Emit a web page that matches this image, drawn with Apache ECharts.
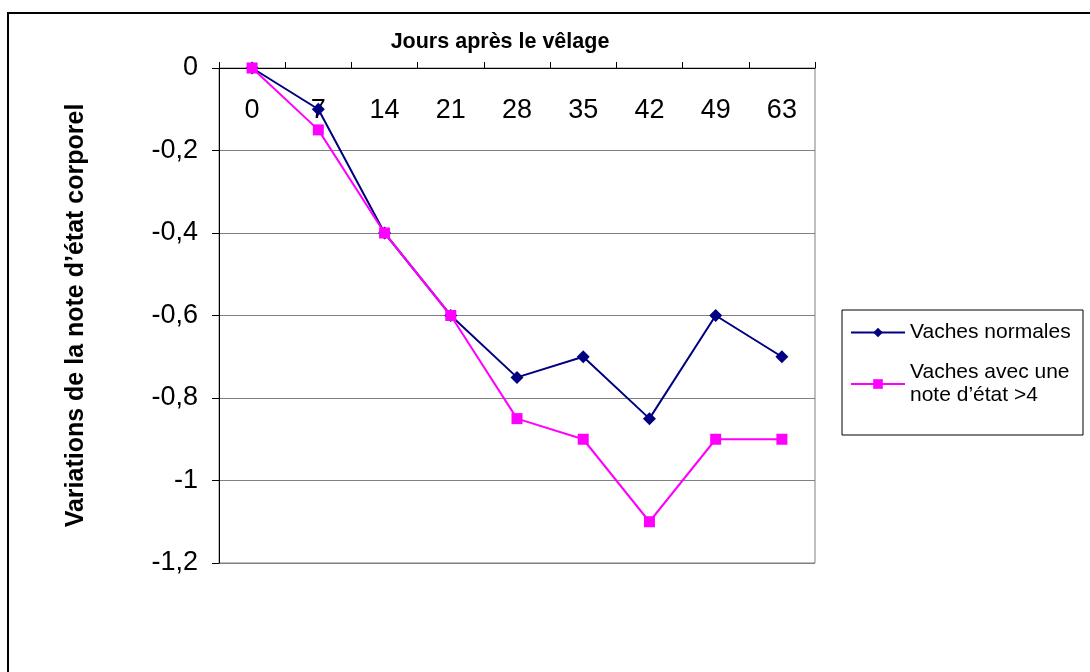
<!DOCTYPE html>
<html>
<head>
<meta charset="utf-8">
<script src="https://cdn.jsdelivr.net/npm/echarts@6/dist/echarts.min.js"></script>
<style>
html,body{margin:0;padding:0;background:#fff;}
#chart{width:1090px;height:672px;}
</style>
</head>
<body>
<div id="chart"></div>
<script>
var jours = ['0', '7', '14', '21', '28', '35', '42', '49', '63'];
var normales = [0, -0.1, -0.4, -0.6, -0.75, -0.7, -0.85, -0.6, -0.7];
var grasses = [0, -0.15, -0.4, -0.6, -0.85, -0.9, -1.1, -0.9, -0.9];
var noms = ['Vaches normales', 'Vaches avec une\nnote d\u2019\u00e9tat >4'];

var chart = echarts.init(document.getElementById('chart'));
var police = 'Liberation Sans, Arial, sans-serif';
var option = {
	animation: false,
	backgroundColor: '#fff',
	textStyle: { fontFamily: police },
	graphic: [
		{ type: 'rect', shape: { x: 8, y: 13, width: 1100, height: 700 },
		  style: { fill: 'none', stroke: '#000', lineWidth: 2 }, z: 0 },
		{ type: 'rect', shape: { x: 842, y: 310, width: 241, height: 125 },
		  style: { fill: '#fff', stroke: '#000', lineWidth: 1 }, z: 0 }
	],
	grid: {
		left: 219, top: 68, width: 596, height: 495,
		show: true, borderColor: '#808080', borderWidth: 1
	},
	legend: {
		orient: 'vertical',
		left: 845, top: 316,
		itemWidth: 54, itemHeight: 12, itemGap: 17,
		textStyle: { fontSize: 21, color: '#000', fontFamily: police, lineHeight: 23 },
		data: noms
	},
	xAxis: {
		type: 'category',
		position: 'top',
		data: jours,
		name: 'Jours apr\u00e8s le v\u00ealage',
		nameLocation: 'middle',
		nameGap: 15,
		nameTextStyle: { fontSize: 21.5, fontWeight: 'bold', color: '#000', padding: [0, 34, 0, 0] },
		axisLine: { lineStyle: { color: '#000', width: 1 } },
		axisTick: { show: true, length: 6, lineStyle: { color: '#000' } },
		axisLabel: { inside: true, margin: 29, fontSize: 27, color: '#000' },
		splitLine: { show: false }
	},
	yAxis: {
		type: 'value',
		min: -1.2, max: 0, interval: 0.2,
		name: 'Variations de la note d\u2019\u00e9tat corporel',
		nameLocation: 'middle',
		nameRotate: 90,
		nameGap: 130,
		nameTextStyle: { fontSize: 25, fontWeight: 'bold', color: '#000' },
		axisLine: { show: true, lineStyle: { color: '#000', width: 1 } },
		axisTick: { show: true, length: 7, lineStyle: { color: '#000' } },
		axisLabel: {
			margin: 21, fontSize: 27, color: '#000',
			formatter: function (v) { return String(Math.round(v * 10) / 10).replace('.', ','); }
		},
		splitLine: { show: true, lineStyle: { color: '#808080', width: 1 } }
	},
	series: [
		{
			name: noms[0], type: 'line', data: normales,
			symbol: 'diamond', symbolSize: 13,
			itemStyle: { color: '#000080' },
			lineStyle: { color: '#000080', width: 2 }
		},
		{
			name: noms[1], type: 'line', data: grasses,
			symbol: 'rect', symbolSize: 11,
			itemStyle: { color: '#ff00ff' },
			lineStyle: { color: '#ff00ff', width: 2 }
		}
	]
};
chart.setOption(option);
</script>
</body>
</html>
